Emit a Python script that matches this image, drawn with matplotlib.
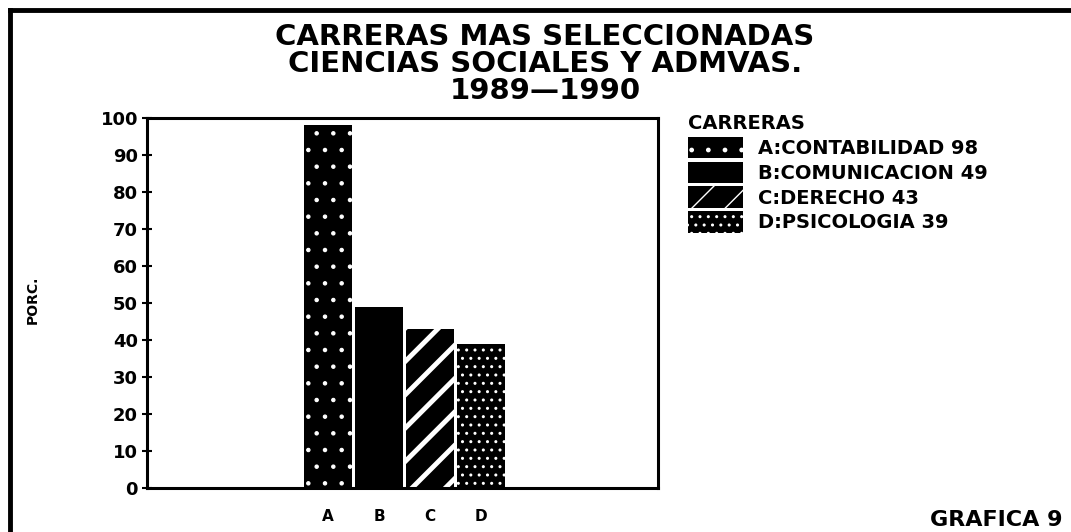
import matplotlib
matplotlib.use("Agg")
import matplotlib.pyplot as plt
from matplotlib.lines import Line2D

# datos de la grafica
categorias = ["A", "B", "C", "D"]
nombres = ["A:CONTABILIDAD 98", "B:COMUNICACION 49", "C:DERECHO 43", "D:PSICOLOGIA 39"]
valores = [98, 49, 43, 39]
hatches = [".", "", "/", ".."]
hatch_lw = [0.8, 1.0, 3.5, 1.0]
yticks = list(range(0, 101, 10))

plt.rcParams["font.family"] = "DejaVu Sans"
plt.rcParams["font.weight"] = "bold"

W, H = 1071, 532
fig = plt.figure(figsize=(W / 100, H / 100), dpi=100)
ax = fig.add_axes([147 / W, 1 - 488 / H, (658 - 147) / W, (488 - 118) / H])

for i, (nom, v, h, lw) in enumerate(zip(nombres, valores, hatches, hatch_lw)):
    with plt.rc_context({"hatch.linewidth": lw}):
        b = ax.bar(i, v, width=0.95, color="black", edgecolor="white",
                   linewidth=0, hatch=h, label=nom)
    for p in b:
        if hasattr(p, "set_hatch_linewidth"):
            p.set_hatch_linewidth(lw)

ax.set_xlim(-3.55, 6.47)
ax.set_ylim(0, 100)
ax.set_yticks(yticks)
ax.set_xticks(range(len(categorias)))
ax.set_xticklabels(categorias, fontsize=11, fontweight="bold")
ax.tick_params(axis="x", length=0, pad=15)
ax.tick_params(axis="y", direction="inout", length=7, width=1.5, labelsize=13, pad=3)
for s in ax.spines.values():
    s.set_linewidth(2.2)

ax.set_ylabel("PORC.", fontsize=10, fontweight="bold")
ax.yaxis.set_label_coords((40 - 147) / 511, (488 - 300) / 370)

fig.text(545 / W, 1 - 64 / H, "CARRERAS MAS SELECCIONADAS\nCIENCIAS SOCIALES Y ADMVAS.\n1989\u20141990",
         ha="center", va="center", fontsize=21, fontweight="bold", linespacing=0.95)

leg = ax.legend(loc="upper left", bbox_to_anchor=(688 / W, 1 - 114 / H),
                bbox_transform=fig.transFigure, frameon=False, title="CARRERAS",
                fontsize=14, title_fontsize=14, handlelength=2.85, handleheight=1.3,
                labelspacing=0.19, borderpad=0, borderaxespad=0, handletextpad=0.77,
                alignment="left")
leg.get_title().set_fontweight("bold")
for t in leg.get_texts():
    t.set_fontweight("bold")

fig.text(1063 / W, 1 - 520 / H, "GRAFICA 9", ha="right", va="center",
         fontsize=16, fontweight="bold")

# marco exterior (solo izquierda y arriba visibles)
fig.add_artist(Line2D([10 / W, 10 / W], [0, 1 - 10 / H], color="black",
                      linewidth=3.5, transform=fig.transFigure))
fig.add_artist(Line2D([10 / W, 1], [1 - 10 / H, 1 - 10 / H], color="black",
                      linewidth=3.5, transform=fig.transFigure))

fig.savefig("out.png", dpi=100)
